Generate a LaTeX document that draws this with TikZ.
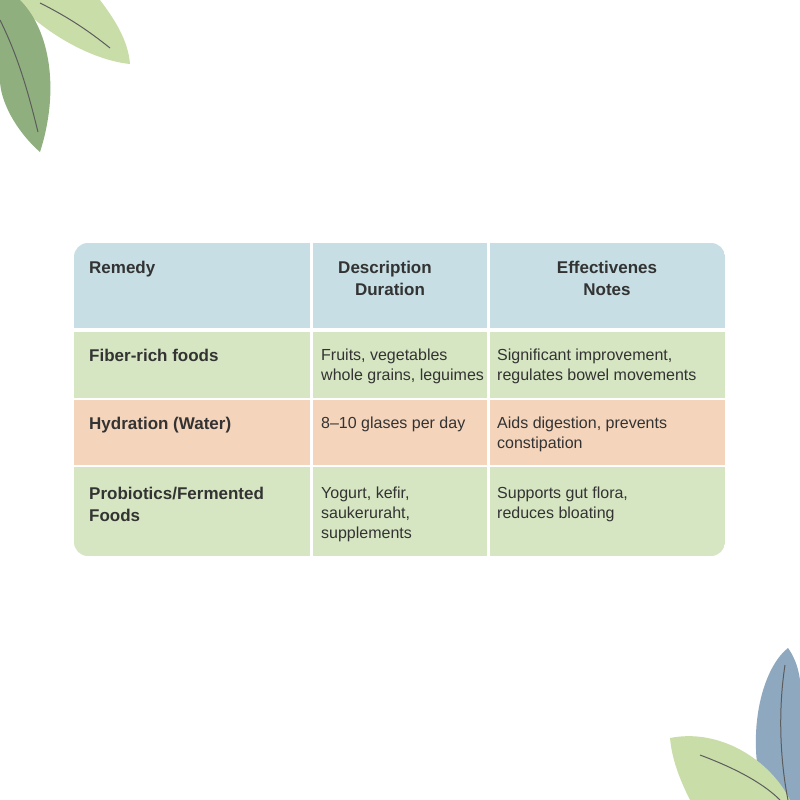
\documentclass[tikz,border=0pt]{standalone}
\usepackage{fontspec}
\setmainfont{Liberation Sans}
\definecolor{hdr}{HTML}{C6DEE4}
\definecolor{grn}{HTML}{D6E6C2}
\definecolor{org}{HTML}{F4D4BB}
\definecolor{txt}{HTML}{333333}
\definecolor{leafA}{HTML}{8FB07E}
\definecolor{leafB}{HTML}{C9DDA8}
\definecolor{leafC}{HTML}{8EA9BF}
\tikzset{cell/.style={anchor=north west,align=left,text=txt,font=\fontsize{16}{20}\selectfont,inner sep=0pt},
hcell/.style={cell,font=\fontsize{17}{22}\selectfont\bfseries},
vein/.style={draw=txt!80,line width=1pt}}
\begin{document}
\begin{tikzpicture}[x=1pt,y=-1pt]
\useasboundingbox (0,0) rectangle (800,800);
\fill[white] (0,0) rectangle (800,800);
% leaves top-left
\fill[leafB] (15,0) -- (100,0) .. controls (115,20) and (128,40) .. (130,64) .. controls (90,60) and (40,30) .. (15,0);
\fill[leafA] (0,0) -- (20,0) .. controls (50,30) and (60,90) .. (40,152) .. controls (15,130) and (0,100) .. (0,80) -- cycle;
\draw[vein] (0,20) .. controls (20,60) and (30,100) .. (38,132);
\draw[vein] (40,3) .. controls (70,18) and (90,32) .. (110,48);
% leaves bottom-right
\fill[leafC] (788,648) .. controls (760,670) and (745,740) .. (765,800) -- (800,800) -- (800,680) .. controls (798,665) and (793,655) .. (788,648);
\fill[leafB] (670,738) .. controls (720,728) and (770,760) .. (790,800) -- (690,800) .. controls (680,780) and (672,760) .. (670,738);
\draw[vein] (700,755) .. controls (740,770) and (765,785) .. (780,800);
\draw[vein] (785,665) .. controls (778,710) and (780,760) .. (788,800);
% table
\begin{scope}
\clip[rounded corners=14pt] (74,243) rectangle (725,556);
\fill[hdr] (74,243) rectangle (725,328);
\fill[grn] (74,332) rectangle (725,398);
\fill[org] (74,400) rectangle (725,465);
\fill[grn] (74,467) rectangle (725,556);
\fill[white] (310,243) rectangle (312.5,556);
\fill[white] (487,243) rectangle (489.5,556);
\end{scope}
\node[hcell] (h1) at (89,261) {Remedy};
\node[hcell,align=center,anchor=north] (h2) at (385,261) {Description\\\hspace*{10pt}Duration};
\node[hcell,align=center,anchor=north] (h3) at (607,261) {Effectivenes\\Notes};
\node[hcell] (r1) at (89,349) {Fiber-rich foods};
\node[cell] (r1b) at (321,349) {Fruits, vegetables\\whole grains, leguimes};
\node[cell] (r1c) at (497,349) {Significant improvement,\\regulates bowel movements};
\node[hcell] (r2) at (89,417) {Hydration (Water)};
\node[cell] (r2b) at (321,417) {8–10 glases per day};
\node[cell] (r2c) at (497,417) {Aids digestion, prevents\\constipation};
\node[hcell] (r3) at (89,487) {Probiotics/Fermented\\Foods};
\node[cell] (r3b) at (321,487) {Yogurt, kefir,\\saukeruraht,\\supplements};
\node[cell] (r3c) at (497,487) {Supports gut flora,\\reduces bloating};
\end{tikzpicture}
\end{document}
